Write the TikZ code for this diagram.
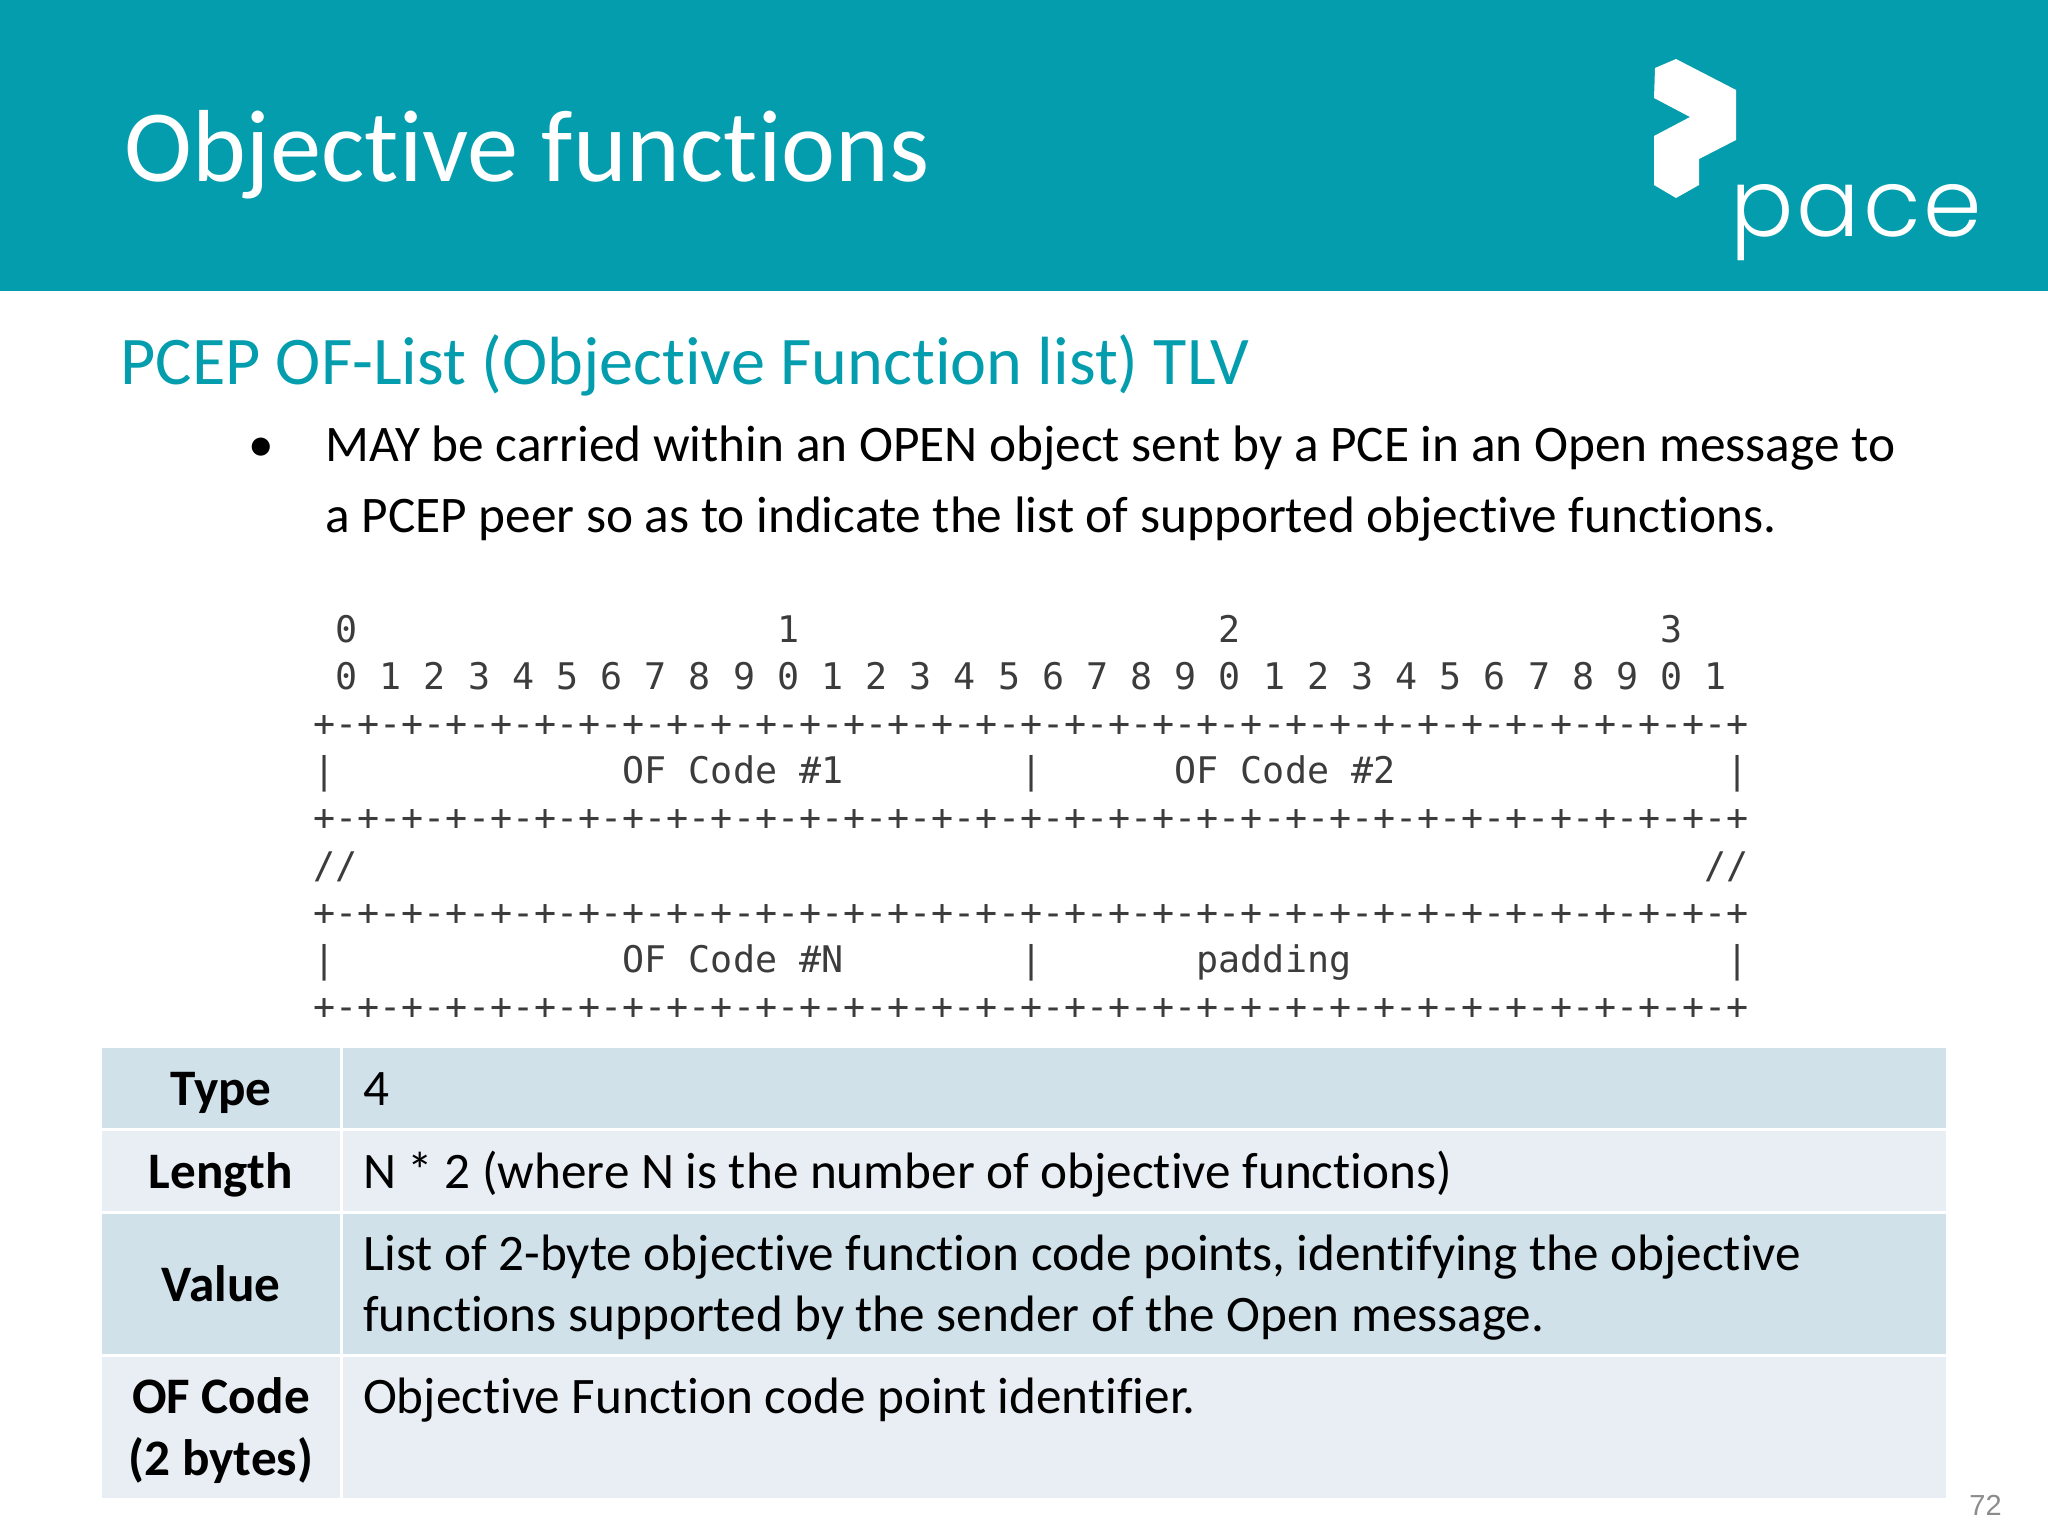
\documentclass[tikz,border=0pt]{standalone}
\usepackage{fontspec}
\setmainfont{Carlito}[Ligatures=NoCommon]
\setmonofont{DejaVu Sans Mono}
\newfontfamily\logofont[LetterSpace=3.2]{Poppins Light}
\newfontfamily\pagefont{Liberation Sans}
\usetikzlibrary{positioning}
\definecolor{teal}{HTML}{049DAE}
\definecolor{rowdark}{HTML}{D0E1EA}
\definecolor{rowlight}{HTML}{E9EEF4}
\definecolor{dumpgrey}{HTML}{3C3C3C}
\newlength{\dumpw}
\setlength{\dumpw}{11.04pt}
\newcommand{\gapc}[1]{\hspace*{#1\dumpw}}
\newcommand{\plusline}{+-+-+-+-+-+-+-+-+-+-+-+-+-+-+-+-+-+-+-+-+-+-+-+-+-+-+-+-+-+-+-+-+}
\tikzset{
	dumpline/.style={inner sep=0pt,outer sep=0pt,text width=718pt,align=flush left,text height=13pt,text depth=4pt,text=dumpgrey,font=\fontsize{18.34}{20}\ttfamily},
	cell/.style={fill=#1,inner ysep=0pt,outer sep=0pt,text height=23pt,text depth=6pt,font=\fontsize{25.6}{30.7}\selectfont},
	twolines/.style={text depth=36.7pt},
	headcell/.style={cell=#1,inner xsep=0pt,text width=119pt,align=flush center,font=\fontsize{25.6}{30.7}\selectfont\bfseries},
	textcell/.style={cell=#1,inner xsep=10pt,text width=781.5pt,align=flush left},
	bodytext/.style={anchor=base west,inner sep=0pt,font=\fontsize{25.65}{35}\selectfont}
}
\begin{document}
\begin{tikzpicture}[x=0.5pt,y=-0.5pt,node distance=23.6pt]
\useasboundingbox (0,0) rectangle (2048,1536);

\fill[teal] (0,0) rectangle (2048,291);
\fill[white] (1655,68) -- (1676,59) -- (1736,90) -- (1736,140) -- (1699,159) -- (1699,185) -- (1676,198) -- (1654,185) -- (1654,136) -- (1690,117) -- (1654,98) -- cycle;

\node[anchor=base west,inner sep=0pt,text=white,font=\fontsize{51.2}{60}\selectfont] (title) at (124,181) {Objective functions};
\node[anchor=base west,inner sep=0pt,text=white,font=\fontsize{47}{50}\logofont] (logo) at (1730,236) {pace};
\node[anchor=base west,inner sep=0pt,text=teal,font=\fontsize{34.1}{40}\selectfont] (subtitle) at (120,384.5) {PCEP OF-List (Objective Function list) TLV};
\node[bodytext] (bullet) at (248,461) {•};
\node[bodytext] (line1) at (325,461) {MAY be carried within an OPEN object sent by a PCE in an Open message to};
\node[bodytext] (line2) at (325,532) {a PCEP peer so as to indicate the list of supported objective functions.};

\node[dumpline,anchor=west] (bitsa) at (313.5,633) {\gapc{1}0\gapc{19}1\gapc{19}2\gapc{19}3};
\node[dumpline] (bitsb) [below of=bitsa] {\gapc{1}0 1 2 3 4 5 6 7 8 9 0 1 2 3 4 5 6 7 8 9 0 1 2 3 4 5 6 7 8 9 0 1};
\node[dumpline] (sepa) [below of=bitsb] {\plusline};
\node[dumpline] (coda) [below of=sepa] {|\gapc{13}OF Code \#1\gapc{8}|\gapc{6}OF Code \#2\gapc{15}|};
\node[dumpline] (sepb) [below of=coda] {\plusline};
\node[dumpline] (slash) [below of=sepb] {//\gapc{61}//};
\node[dumpline] (sepc) [below of=slash] {\plusline};
\node[dumpline] (codn) [below of=sepc] {|\gapc{13}OF Code \#N\gapc{8}|\gapc{7}padding\gapc{17}|};
\node[dumpline] (sepd) [below of=codn] {\plusline};

\node[headcell=rowdark,anchor=north west,minimum height=40pt] (type) at (102,1048) {Type};
\node[textcell=rowdark,minimum height=40pt] (typeval) [right=1.5pt of type] {4};
\node[headcell=rowlight,minimum height=40pt] (length) [below=1.5pt of type] {Length};
\node[textcell=rowlight,minimum height=40pt] (lengthval) [right=1.5pt of length] {N * 2 (where N is the number of objective functions)};
\node[headcell=rowdark,minimum height=70pt] (value) [below=1.5pt of length] {Value};
\node[textcell=rowdark,twolines,minimum height=70pt] (valueval) [right=1.5pt of value] {List of 2-byte objective function code points, identifying the objective\\functions supported by the sender of the Open message.};
\node[headcell=rowlight,twolines,minimum height=70.5pt] (ofcode) [below=1.5pt of value] {OF Code\\(2 bytes)};
\node[textcell=rowlight,twolines,minimum height=70.5pt] (ofcodeval) [right=1.5pt of ofcode] {Objective Function code point identifier.};

\node[anchor=base east,inner sep=0pt,text=black!45,font=\fontsize{14.5}{16}\pagefont] (pagenum) at (2002,1515) {72};
\end{tikzpicture}
\end{document}
